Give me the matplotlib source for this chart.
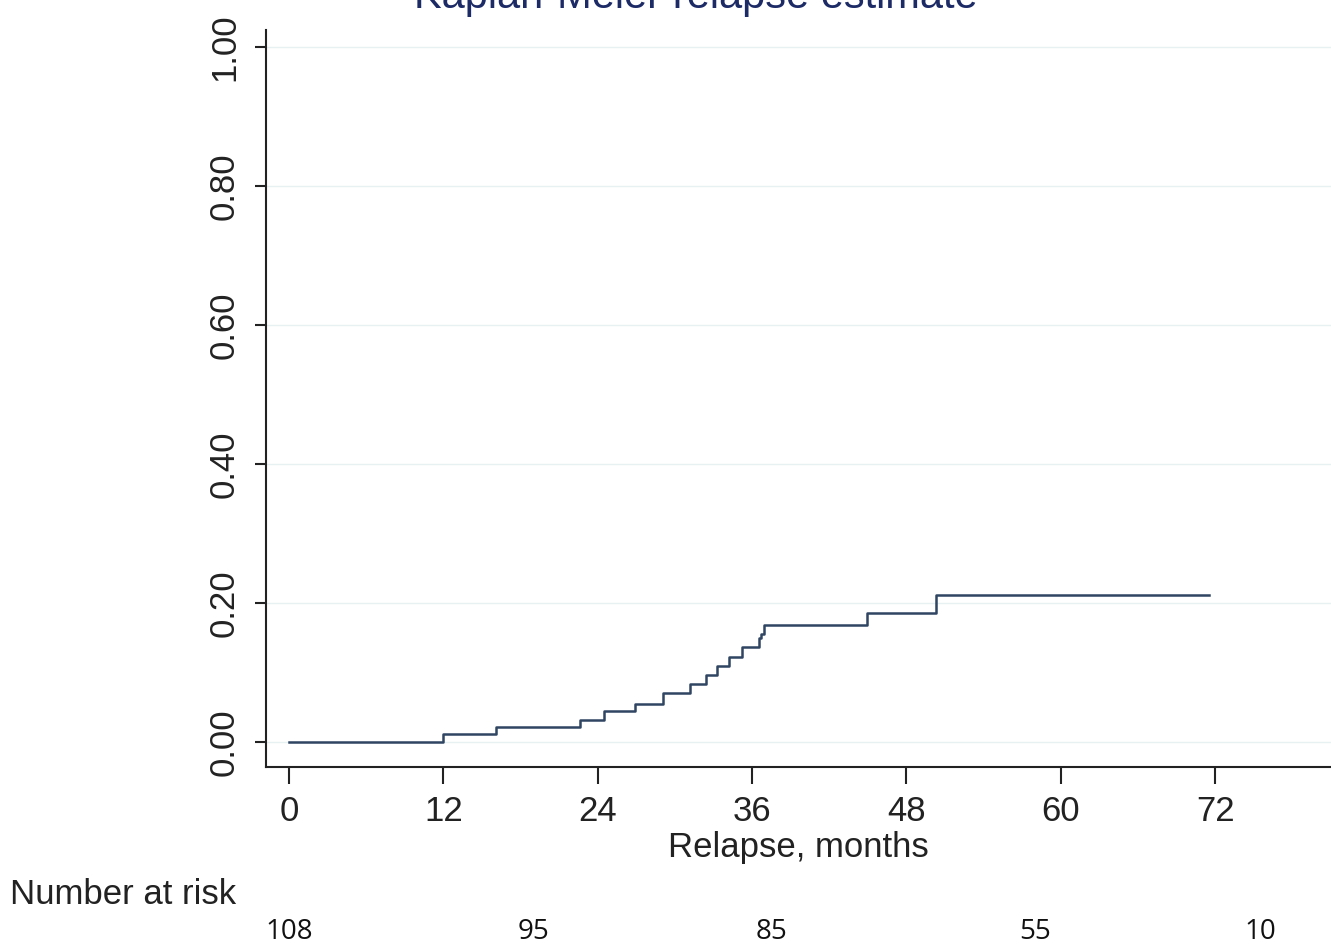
import numpy as np
import matplotlib.pyplot as plt

# step function (months, cumulative relapse)
times = [0, 12.0, 16.1, 22.6, 24.5, 26.9, 29.1, 31.2, 32.4, 33.3, 34.2, 35.2, 36.5, 36.7, 36.9, 44.9, 50.3, 71.5]
est = [0, 0.011, 0.021, 0.031, 0.045, 0.055, 0.070, 0.084, 0.097, 0.109, 0.123, 0.137, 0.150, 0.155, 0.169, 0.186, 0.211, 0.211]

risk_pos = [0, 19, 37.5, 58, 75.5]
at_risk = [108, 95, 85, 55, 10]

xticks = [0, 12, 24, 36, 48, 60, 72]
yticks = [0, 0.2, 0.4, 0.6, 0.8, 1.0]

plt.rcParams['font.family'] = ['Liberation Sans', 'DejaVu Sans']

fig = plt.figure(figsize=(13.31, 9.46), dpi=100)
ax = fig.add_axes([266/1331, 1 - 767/946, 1 - 266/1331, (767 - 30)/946])

ax.step(times, est, where='post', color='#2f4562', lw=1.8)

ax.set_xlim(-1.79, 81.0)
ax.set_ylim(-0.036, 1.0245)
ax.set_xticks(xticks)
ax.set_yticks(yticks)
ax.set_yticklabels([f'{v:.2f}' for v in yticks], rotation=90, va='center')
ax.tick_params(axis='x', labelsize=25, length=12, width=1.5, pad=8, colors='#222222')
ax.tick_params(axis='y', labelsize=25, length=8, width=1.5, pad=10, colors='#222222')
ax.grid(axis='y', color='#e8f1f2', lw=1)
ax.set_axisbelow(True)
for s in ['top', 'right']:
    ax.spines[s].set_visible(False)
for s in ['left', 'bottom']:
    ax.spines[s].set_linewidth(1.5)
    ax.spines[s].set_color('#222222')

ax.set_xlabel('Relapse, months', fontsize=25, labelpad=2, color='#222222')

fig.text(0.5 + 30/1331, 1 - 8/946, 'Kaplan-Meier relapse estimate', ha='center', va='baseline',
         fontsize=30, color='#1c2a66')

fig.text(10/1331, 1 - 894/946, 'Number at risk', ha='left', va='center', fontsize=25, color='#222222')
for p, n in zip(risk_pos, at_risk):
    ax.text(p, -(932 - 767) / (767 - 30), str(n), transform=ax.get_xaxis_transform(),
            ha='center', va='center', fontsize=20, color='#111111', family=['Open Sans', 'DejaVu Sans'])

fig.savefig('out.png', dpi=100)
